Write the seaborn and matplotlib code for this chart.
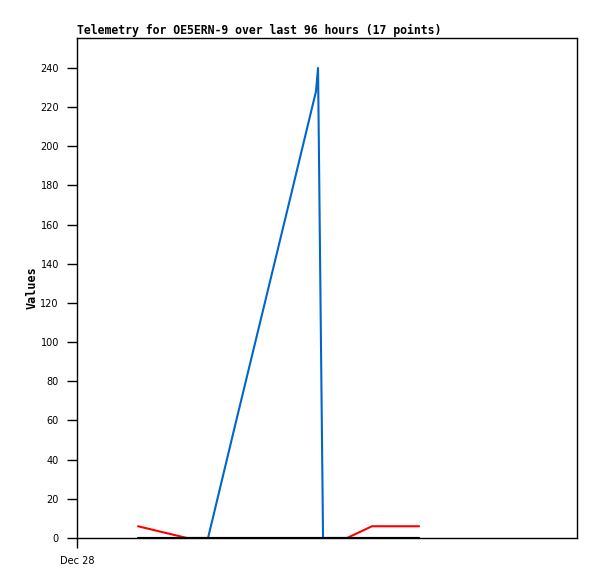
import pandas as pd
import seaborn as sns
from matplotlib import pyplot as plt

# hours after Dec 28 00:00
hours = [2.93, 4.1, 5.28, 6.29, 7.6, 8.9, 10.2, 11.47, 11.57, 11.81,
         12.4, 12.96, 13.6, 14.16, 15.0, 15.7, 16.42]
red_vals = [6, 3, 0, 0, 0, 0, 0, 0, 0, 0, 0, 0, 3.2, 6, 6, 6, 6]
blue_vals = [0, 0, 0, 0, 58, 115, 172, 228, 240, 0, 0, 0, 0, 0, 0, 0, 0]
black_vals = [0] * 17
y_ticks = list(range(0, 241, 20))

series = [("red", red_vals, "#ff0000"),
          ("blue", blue_vals, "#0066cc"),
          ("black", black_vals, "#000000")]

sns.set_style("ticks")
fig = plt.figure(figsize=(5.97, 5.79), dpi=100)
ax = fig.add_axes([77 / 597, 41 / 579, 500 / 597, 500 / 579])

# draw one by one so the black zero line ends up on top
for name, vals, col in series:
    data = pd.DataFrame({"hour": hours, "value": vals})
    sns.lineplot(data=data, x="hour", y="value", color=col, linewidth=1.5,
                 ax=ax, estimator=None, sort=False)

ax.set_xlim(0, 24)
ax.set_ylim(0, 255.3)
ax.set_yticks(y_ticks)
ax.set_yticklabels([str(t) for t in y_ticks], fontsize=7)
ax.set_xticks([0])
ax.set_xticklabels(["Dec 28"], fontsize=7)
ax.tick_params(length=7, width=1, pad=6, colors="black", labelcolor="black")
for s in ax.spines.values():
    s.set_visible(True)
    s.set_color("black")
    s.set_linewidth(1)
ax.set_xlabel("")
ax.set_ylabel("Values", family="DejaVu Sans Mono", fontweight="bold",
              fontsize=8.5, color="black", labelpad=1)
ax.set_title("Telemetry for OE5ERN-9 over last 96 hours (17 points)",
             loc="left", family="DejaVu Sans Mono", fontweight="bold",
             fontsize=8.3, pad=3, color="black")

fig.savefig("out.png", dpi=100)
